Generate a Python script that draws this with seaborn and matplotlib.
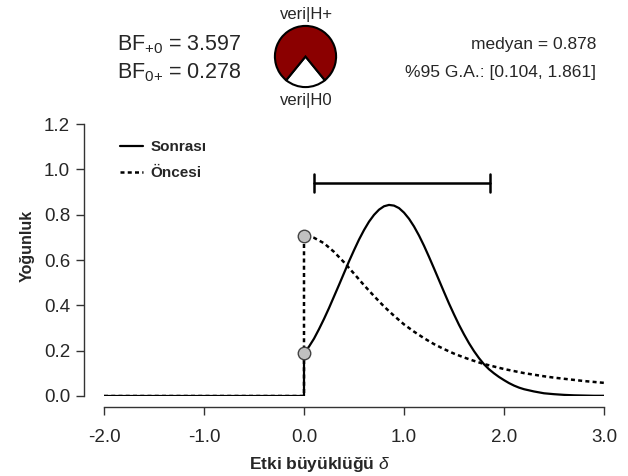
# Prior / posterior plot for a one-sided Bayesian t-test (JASP style)

import seaborn as sns
import matplotlib.pyplot as plt
from matplotlib.lines import Line2D

# values
delta_post = [0.0, 0.05, 0.1, 0.15, 0.2, 0.25, 0.3, 0.35, 0.4, 0.45, 0.5, 0.55, 0.6, 0.65,
              0.7, 0.75, 0.8, 0.85, 0.9, 0.95, 1.0, 1.05, 1.1, 1.15, 1.2, 1.25, 1.3,
              1.35, 1.4, 1.45, 1.5, 1.55, 1.6, 1.65, 1.7, 1.75, 1.8, 1.85, 1.9, 1.95,
              2.0, 2.05, 2.1, 2.15, 2.2, 2.3, 2.4, 2.5, 2.6, 2.7, 2.8, 2.9, 3.0]
posterior = [0.190, 0.218, 0.253, 0.295, 0.340, 0.388, 0.439, 0.490, 0.542, 0.594, 0.643,
             0.690, 0.732, 0.769, 0.799, 0.822, 0.837, 0.843, 0.840, 0.829, 0.809,
             0.782, 0.748, 0.708, 0.663, 0.614, 0.563, 0.511, 0.459, 0.408, 0.360,
             0.314, 0.272, 0.233, 0.198, 0.167, 0.140, 0.118, 0.100, 0.084, 0.070,
             0.057, 0.046, 0.037, 0.030, 0.020, 0.012, 0.008, 0.005, 0.003, 0.002,
             0.001, 0.001]
delta_prior = [0.0, 0.1, 0.2, 0.3, 0.4, 0.5, 0.6, 0.7, 0.8, 0.9, 1.0,
               1.1, 1.2, 1.3, 1.4, 1.5, 1.6, 1.7, 1.8, 1.9, 2.0,
               2.1, 2.2, 2.3, 2.4, 2.5, 2.6, 2.7, 2.8, 2.9, 3.0]
prior = [0.707, 0.698, 0.674, 0.636, 0.590, 0.540, 0.489, 0.441, 0.395, 0.354, 0.316,
         0.284, 0.255, 0.229, 0.207, 0.187, 0.170, 0.155, 0.141, 0.130, 0.119,
         0.110, 0.101, 0.094, 0.087, 0.081, 0.076, 0.071, 0.066, 0.062, 0.058]
xmin = -2.0
bf_plus0 = 3.597
bf_0plus = 0.278
median = 0.878
ci = [0.104, 1.861]
ci_height = 0.94

sns.set_style("ticks")
plt.rcParams["font.family"] = ["Liberation Sans", "DejaVu Sans"]
plt.rcParams["mathtext.fontset"] = "custom"
plt.rcParams["mathtext.rm"] = "Liberation Sans"
plt.rcParams["mathtext.it"] = "Liberation Sans:italic"

W, H = 628, 476
fig = plt.figure(figsize=(W / 100, H / 100), dpi=100)
ax = fig.add_axes([104 / W, 1 - 396 / H, 500 / W, 272 / H])

# full curves: flat zero left of 0, then jump up at 0
dotted = (0, (1.6, 1.3))
sns.lineplot(x=[xmin, 0.0] + delta_prior, y=[0.0, 0.0] + prior, ax=ax, color="black",
             lw=1.8, linestyle=dotted, estimator=None, sort=False)
sns.lineplot(x=[xmin, 0.0] + delta_post, y=[0.0, 0.0] + posterior, ax=ax, color="black",
             lw=1.6, estimator=None, sort=False)

# dots at delta = 0
ax.plot([0, 0], [prior[0], posterior[0]], "o", ms=9, mfc="#c0c0c0",
        mec="#444444", mew=1, zorder=5, clip_on=False)

# credible interval bar
ax.plot(ci, [ci_height, ci_height], color="black", lw=1.8)
for c in ci:
    ax.plot([c, c], [ci_height - 0.04, ci_height + 0.04], color="black", lw=1.8)

ax.set_xlim(-2, 3)
ax.set_ylim(0, 1.2)
ax.set_xticks([-2, -1, 0, 1, 2, 3])
ax.set_xticklabels(["-2.0", "-1.0", "0.0", "1.0", "2.0", "3.0"])
ax.set_yticks([0, 0.2, 0.4, 0.6, 0.8, 1.0, 1.2])
ax.set_yticklabels(["0.0", "0.2", "0.4", "0.6", "0.8", "1.0", "1.2"])
ax.tick_params(axis="both", labelsize=13.5, length=6, width=1, color="#333333")
ax.tick_params(axis="x", pad=10)
ax.tick_params(axis="y", pad=4)
sns.despine(ax=ax, offset={"left": 14.4, "bottom": 8}, trim=True)
for s in ["left", "bottom"]:
    ax.spines[s].set_linewidth(1)
    ax.spines[s].set_color("#333333")
ax.set_xlabel("")
ax.set_ylabel("")

fig.text(320 / W, 1 - 464 / H, r"Etki büyüklüğü $\delta$", ha="center", va="center",
         fontsize=12.5, fontweight="bold")
fig.text(27 / W, 1 - 246 / H, "Yoğunluk", ha="center", va="center", rotation=90,
         fontsize=11.5, fontweight="bold")

handles = [Line2D([], [], color="black", lw=1.6),
           Line2D([], [], color="black", lw=1.8, linestyle=dotted)]
ax.legend(handles, ["Sonrası", "Öncesi"], loc="upper left",
          bbox_to_anchor=(0.005, 0.99), frameon=False, handlelength=1.5,
          handletextpad=0.5, labelspacing=0.75, prop={"weight": "bold", "size": 11})

# header texts
fig.text(117 / W, 1 - 45 / H, r"BF$_{{+}0}$ = %.3f" % bf_plus0, ha="left", va="center",
         fontsize=15.5)
fig.text(117 / W, 1 - 73 / H, r"BF$_{0{+}}$ = %.3f" % bf_0plus, ha="left", va="center",
         fontsize=15.5)
fig.text(596 / W, 1 - 44 / H, "medyan = %.3f" % median, ha="right", va="center",
         fontsize=12.5)
fig.text(596 / W, 1 - 73 / H, "%%95 G.A.: [%.3f, %.3f]" % (ci[0], ci[1]), ha="right",
         va="center", fontsize=12.5)
fig.text(306 / W, 1 - 15 / H, "veri|H+", ha="center", va="center", fontsize=12)
fig.text(306 / W, 1 - 101 / H, "veri|H0", ha="center", va="center", fontsize=12)

# pie of posterior model probabilities
p_h1 = bf_plus0 / (1 + bf_plus0)
p_h0 = 1 - p_h1
pax = fig.add_axes([274 / W, 1 - 88 / H, 63 / W, 63 / H])
pax.pie([p_h0, p_h1], colors=["white", "#8b0000"],
        startangle=270 - p_h0 * 180, counterclock=True,
        wedgeprops={"edgecolor": "black", "linewidth": 1.5})
pax.set_xlim(-1.03, 1.03)
pax.set_ylim(-1.03, 1.03)
pax.set_aspect("equal")

fig.savefig("out.png", dpi=100)
